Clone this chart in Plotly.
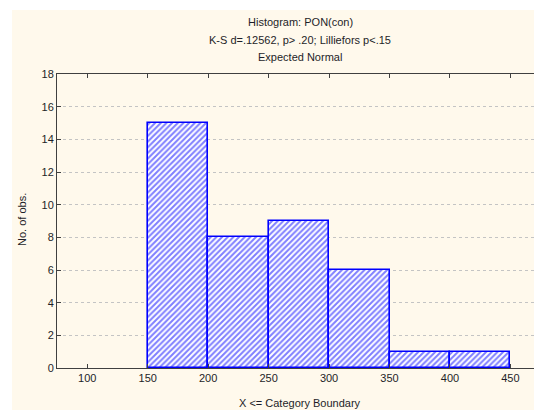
import plotly.graph_objects as go

bin_edges = [150, 200, 250, 300, 350, 400, 450]
counts = [15, 8, 9, 6, 1, 1]
x_ticks = [100, 150, 200, 250, 300, 350, 400, 450]
y_ticks = [0, 2, 4, 6, 8, 10, 12, 14, 16, 18]
title_lines = ["Histogram: PON(con)",
               "K-S d=.12562, p> .20; Lilliefors p<.15",
               "Expected Normal"]
x_title = "X <= Category Boundary"
y_title = "No. of obs."

centers = [(a + b) / 2 for a, b in zip(bin_edges[:-1], bin_edges[1:])]
widths = [b - a for a, b in zip(bin_edges[:-1], bin_edges[1:])]

FONT = "Arial, Liberation Sans, sans-serif"
TXT = "#1e1e28"

fig = go.Figure()
fig.add_trace(go.Bar(
    x=centers, y=counts, width=widths,
    marker=dict(color="white",
                line=dict(color="#0000ff", width=1.6),
                pattern=dict(shape="/", fgcolor="#0000ff", bgcolor="white",
                             size=4, solidity=0.5)),
    showlegend=False,
))

W, H = 534, 410
L, R, T, B = 57, 0, 74, 42

fig.update_layout(
    width=W, height=H,
    margin=dict(l=L, r=R, t=T, b=B, pad=0),
    paper_bgcolor="white",
    plot_bgcolor="white",
    font=dict(family=FONT, size=11, color=TXT),
    bargap=0,
)

ph = H - T - B
pw = W - L - R
def py(ypix):
    return (H - B - ypix) / ph
def px(xpix):
    return (xpix - L) / pw

fig.update_layout(shapes=[dict(type="rect", xref="paper", yref="paper",
                 x0=px(12), x1=1.0, y0=py(410), y1=py(10),
                 fillcolor="#fff9ec", line=dict(width=0), layer="below")])

fig.update_xaxes(
    range=[75, 469.5],
    tickvals=x_ticks, ticktext=[str(v) for v in x_ticks],
    ticks="inside", ticklen=4, tickcolor="#404040",
    showline=True, linecolor="#404040", linewidth=1, mirror="ticks",
    showgrid=False, zeroline=False,
    tickfont=dict(size=11, color=TXT),
)
fig.update_yaxes(
    range=[0, 18],
    tickvals=y_ticks,
    ticks="inside", ticklen=4, tickcolor="#404040",
    showline=True, linecolor="#404040", linewidth=1, mirror=False,
    showgrid=True, gridcolor="#c4c4c4", gridwidth=1, griddash="dot",
    zeroline=False,
    tickfont=dict(size=11, color=TXT),
)

anns = []
for txt, yy in zip(title_lines, [22, 40, 57]):
    anns.append(dict(text=txt, xref="paper", yref="paper", x=px(300), y=py(yy),
                     xanchor="center", yanchor="middle", showarrow=False,
                     font=dict(size=11, color=TXT)))
anns.append(dict(text=x_title, xref="paper", yref="paper", x=px(300), y=py(403),
                 xanchor="center", yanchor="middle", showarrow=False,
                 font=dict(size=11, color=TXT)))
anns.append(dict(text=y_title, xref="paper", yref="paper", x=px(22), y=py(220),
                 xanchor="center", yanchor="middle", showarrow=False, textangle=-90,
                 font=dict(size=11, color=TXT)))
fig.update_layout(annotations=anns)

fig.write_html("out.html",
               config={"displayModeBar": False},
               post_script="document.body.style.margin='0';document.body.style.overflow='hidden';")
